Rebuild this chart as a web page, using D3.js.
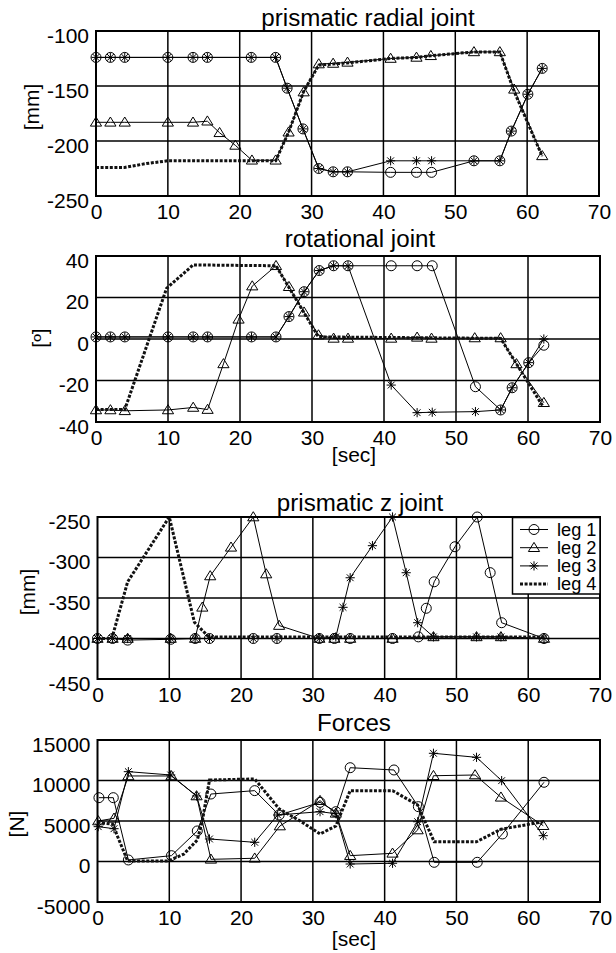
<!DOCTYPE html>
<html><head><meta charset="utf-8">
<script src="https://cdn.jsdelivr.net/npm/d3@7"></script>
<style>
body{margin:0;background:#fff}
svg{display:block}
text{font-family:Arial,"Liberation Sans",sans-serif;fill:#000}
</style>
</head><body>
<svg id="c" width="616" height="953"></svg>
<script>
// ---------------- DATA ----------------
const xTicks = [0, 10, 20, 30, 40, 50, 60, 70];
const legendLabels = ["leg 1", "leg 2", "leg 3", "leg 4"];
const titles = ["prismatic radial joint", "rotational joint", "prismatic z joint", "Forces"];
const yLabels = ["[mm]", "[º]", "[mm]", "[N]"];
const yTicks1 = [-250, -200, -150, -100];
const yTicks2 = [-40, -20, 0, 20, 40];
const yTicks3 = [-450, -400, -350, -300, -250];
const yTicks4 = [-5000, 0, 5000, 10000, 15000];

// prismatic radial joint [mm]
const radialT13 = [0, 2, 4, 10, 13.5, 15.5, 21.6, 25, 26.6, 28.8, 31, 33, 35, 41, 44.6, 46.7, 52.6, 56.2, 57.8, 60.1, 62.1];
const radialLeg1 = [-124, -124, -124, -124, -124, -124, -124, -124, -152, -189, -225, -228, -228, -228.5, -228.5, -228.5, -218, -218, -191, -157.5, -134];
const radialLeg3 = [-124, -124, -124, -124, -124, -124, -124, -124, -152, -189, -225, -228, -228, -218, -218, -218, -218, -218, -191, -157.5, -134];
const radialT2 = [0, 2, 4, 10, 13.5, 15.5, 17.2, 19.4, 21.7, 25, 26.8, 28.9, 31, 33, 35, 41, 44.6, 46.6, 52.6, 56.2, 58.2, 62.1];
const radialLeg2 = [-183, -183, -183, -183, -183, -182, -192.5, -204, -217.5, -217.5, -192, -155.5, -130, -129.5, -128.5, -125, -124, -122.5, -119, -119, -153, -213.5];
const radialT4 = [0, 4, 7, 10, 25, 26.8, 28.9, 31, 33, 35, 41, 44.6, 46.6, 52.6, 56.2, 58.2, 62.1];
const radialLeg4 = [-224, -224, -220.5, -218, -218, -192, -155, -131, -130, -129, -125, -124, -122.5, -119, -119, -155, -214];

// rotational joint [deg]
const rotT13 = [0, 2, 4, 10, 13.5, 15.5, 21.6, 25, 26.8, 28.9, 31, 33, 35, 41, 44.6, 46.7, 52.7, 56.2, 57.8, 60.1, 62.2];
const rotLeg1 = [1, 1, 1, 1, 1, 1, 1, 1, 10.8, 22.8, 33, 35.3, 35.3, 35.3, 35.3, 35.3, -23, -34.2, -23.5, -11.4, -3];
const rotLeg3 = [1, 1, 1, 1, 1, 1, 1, 1, 10.8, 22.8, 33, 35.3, 35.3, -22.2, -35.5, -35.3, -35, -34.2, -23.5, -11.4, 0];
const rotT2 = [0, 2, 4, 10, 13.5, 15.5, 17.7, 19.8, 21.7, 25, 26.8, 28.9, 30.9, 33, 35, 41, 44.6, 46.6, 52.6, 56.2, 58.4, 62.2];
const rotLeg2 = [-34.2, -34.2, -34.6, -34.2, -33, -34, -12, 9.5, 25.5, 35.3, 25.2, 12.9, 1.9, 0.3, 0.3, 0.3, 0.8, 0.3, 0.5, 0.5, -12, -30.7];
const rotT4 = [0, 4, 9.8, 13.5, 25, 30.9, 56.2, 62.1];
const rotLeg4 = [-34, -34, 24.4, 35.7, 35.3, 1, 0.3, -32.6];

// prismatic z joint [mm]
const zT1 = [0, 2.1, 4.2, 10.2, 13.6, 15.6, 21.7, 25, 30.9, 33, 35.2, 41.1, 44.7, 45.8, 46.9, 49.8, 52.9, 54.7, 56.3, 62.2];
const zLeg1 = [-400, -400, -402, -401, -400, -400, -400, -400, -400, -400, -400, -400, -398, -362.7, -330, -286.7, -250, -318.7, -380.5, -400];
const zT2 = [0, 2.1, 4.2, 10.2, 13.6, 14.6, 15.7, 18.6, 21.7, 23.5, 25.3, 30.9, 33, 35.2, 41.1, 46.8, 52.8, 56.2, 62.2];
const zLeg2 = [-400, -400, -400, -400, -400, -361.5, -322.8, -287.4, -250, -320.4, -384, -400, -400, -400, -400, -398, -398, -398, -400];
const zT3 = [0, 2.1, 4.2, 10.2, 13.6, 15.6, 21.7, 25, 30.9, 33.2, 34.2, 35.2, 38.3, 41.1, 43, 44.6, 46.8, 52.8, 56.2, 62.2];
const zLeg3 = [-400, -400, -400, -400, -400, -400, -400, -400, -400, -398, -361.5, -325, -285.4, -250, -318.8, -380.5, -398, -398, -398, -400];
const zT4 = [0, 2, 4.2, 10, 13.5, 15.5, 62.2];
const zLeg4 = [-400, -400, -330, -250, -380, -398, -398];

// Forces [N]
const fT1 = [0.2, 2.2, 4.3, 10.3, 13.9, 15.8, 21.9, 25.3, 31, 33.2, 35.2, 41.3, 44.7, 46.9, 52.9, 56.4, 62.2];
const fLeg1 = [7880, 7880, 190, 720, 3770, 8330, 8750, 5740, 7300, 6150, 11580, 11300, 6770, -100, -100, 3400, 9780];
const fT2 = [0.1, 2.3, 4.3, 10.3, 13.8, 15.8, 21.9, 25.4, 31, 33.2, 35.2, 41.1, 44.6, 46.8, 52.6, 56.2, 62.1];
const fLeg2 = [5000, 5330, 10560, 10560, 8090, 270, 400, 4380, 7510, 5950, 720, 1010, 3890, 10590, 10680, 7930, 4420];
const fT3 = [0.1, 2.3, 4.3, 10.2, 13.8, 15.6, 21.9, 25.1, 31, 33.2, 35.2, 41.1, 44.6, 46.8, 52.8, 56.3, 62.1];
const fLeg3 = [4300, 4050, 11090, 10680, 8090, 2780, 2370, 5740, 6150, 5900, -310, -220, 4910, 13360, 12860, 9980, 3190];
const fT4 = [0, 2.1, 4.2, 9.8, 12, 13.9, 14.6, 15.6, 21.9, 25.3, 28.4, 31, 33.2, 35.2, 41.1, 44.6, 46.9, 52.8, 56.2, 62.1];
const fLeg4 = [4850, 4600, 60, 60, 900, 2650, 5000, 10060, 10190, 6500, 4910, 3400, 4380, 8750, 8750, 6980, 2440, 2440, 3980, 4910];

// ---------------- LAYOUT ----------------
const panels = [
  {left: 96, right: 599, top: 31, bottom: 196, yTicks: yTicks1, title: titles[0], titleX: 368, titleY: 26,
   ylab: yLabels[0], ylabX: 39, ylabY: 107,
   series: [[radialT13, radialLeg1], [radialT2, radialLeg2], [radialT13, radialLeg3], [radialT4, radialLeg4]]},
  {left: 96, right: 600, top: 256, bottom: 422, yTicks: yTicks2, title: titles[1], titleX: 360, titleY: 247,
   ylab: yLabels[1], ylabX: 47, ylabY: 338, xlab: "[sec]", xlabY: 462,
   series: [[rotT13, rotLeg1], [rotT2, rotLeg2], [rotT13, rotLeg3], [rotT4, rotLeg4]]},
  {left: 97.5, right: 600, top: 517, bottom: 679, yTicks: yTicks3, title: titles[2], titleX: 360, titleY: 511,
   ylab: yLabels[2], ylabX: 35, ylabY: 592, legend: true,
   series: [[zT1, zLeg1], [zT2, zLeg2], [zT3, zLeg3], [zT4, zLeg4]]},
  {left: 97.5, right: 600, top: 740, bottom: 902, yTicks: yTicks4, title: titles[3], titleX: 354, titleY: 731,
   ylab: yLabels[3], ylabX: 24, ylabY: 824, xlab: "[sec]", xlabY: 946,
   series: [[fT1, fLeg1], [fT2, fLeg2], [fT3, fLeg3], [fT4, fLeg4]]}
];

const SX = 1.05;       // horizontal glyph stretch of the original figure
const TICK_FS = 20;
const svg = d3.select("#c");

const markerPaths = [
  null, // circle
  "M0,-5.3L5.6,3.8L-5.6,3.8Z",
  "M-4.6,0H4.6M0,-4.6V4.6M-3.4,-3.4L3.4,3.4M-3.4,3.4L3.4,-3.4",
  null
];

function drawMarker(g, k, x, y) {
  if (k === 0) {
    g.append("circle").attr("cx", x).attr("cy", y).attr("r", 5)
      .attr("fill", "none").attr("stroke", "#000").attr("stroke-width", 1);
  } else if (markerPaths[k]) {
    g.append("path").attr("d", markerPaths[k]).attr("transform", `translate(${x},${y})`)
      .attr("fill", "none").attr("stroke", "#000").attr("stroke-width", 1);
  }
}

function sText(g, x, y, str, fs, anchor, rot) {
  return g.append("text")
    .attr("transform", `translate(${x},${y})${rot ? " rotate(" + rot + ")" : ""} scale(${SX},1)`)
    .attr("font-size", fs).attr("text-anchor", anchor || "middle").text(str);
}

const fmt = d => String(d); // plain hyphen-minus like the original

panels.forEach(p => {
  const g = svg.append("g");
  const x = d3.scaleLinear().domain([0, 70]).range([p.left, p.right]);
  const yd = d3.extent(p.yTicks);
  const y = d3.scaleLinear().domain(yd).range([p.bottom, p.top]);

  // grid
  g.append("g").selectAll("line").data(xTicks.slice(1, -1)).join("line")
    .attr("x1", d => x(d)).attr("x2", d => x(d)).attr("y1", p.top).attr("y2", p.bottom)
    .attr("stroke", "#000").attr("stroke-width", 1.5);
  g.append("g").selectAll("line").data(p.yTicks.slice(1, -1)).join("line")
    .attr("y1", d => y(d)).attr("y2", d => y(d)).attr("x1", p.left).attr("x2", p.right)
    .attr("stroke", "#000").attr("stroke-width", 1.5);

  // axes (labels)
  const xa = g.append("g").attr("transform", `translate(0,${p.bottom})`)
    .call(d3.axisBottom(x).tickValues(xTicks).tickSize(0).tickFormat(fmt));
  xa.select(".domain").remove();
  xa.selectAll("text").attr("font-size", TICK_FS).attr("font-family", null)
    .attr("dy", null).attr("y", 23).attr("transform", `scale(${SX},1)`).attr("fill", "#000");

  const ya = g.append("g").attr("transform", `translate(${p.left},0)`)
    .call(d3.axisLeft(y).tickValues(p.yTicks).tickSize(0).tickFormat(fmt));
  ya.select(".domain").remove();
  ya.selectAll("text").attr("font-size", TICK_FS).attr("font-family", null)
    .attr("dy", null).attr("y", 11).attr("x", -7 / SX).attr("transform", `scale(${SX},1)`).attr("fill", "#000");

  // data lines
  const dg = g.append("g");
  const line = d3.line().x(d => x(d[0])).y(d => y(d[1]));
  p.series.forEach((s, k) => {
    const pts = s[0].map((t, i) => [t, s[1][i]]);
    const path = dg.append("path").attr("d", line(pts)).attr("fill", "none");
    if (k === 3) {
      path.attr("stroke", "#111").attr("stroke-width", 3).attr("stroke-dasharray", "3,1.6");
    } else {
      path.attr("stroke", "#000").attr("stroke-width", 1);
      pts.forEach(d => drawMarker(dg, k, x(d[0]), y(d[1])));
    }
  });

  // frame
  g.append("rect").attr("x", p.left).attr("y", p.top).attr("width", p.right - p.left)
    .attr("height", p.bottom - p.top).attr("fill", "none").attr("stroke", "#000").attr("stroke-width", 2);

  // titles and labels
  sText(g, p.titleX, p.titleY, p.title, 23, "middle");
  sText(g, p.ylabX, p.ylabY, p.ylab, TICK_FS, "middle", -90);
  if (p.xlab) sText(g, 354, p.xlabY, p.xlab, TICK_FS, "middle");

  // legend
  if (p.legend) {
    const lg = g.append("g");
    const bx = 512.5, by = p.top + 0.5, bw = p.right - 512.5, bh = 76.5;
    lg.append("rect").attr("x", bx).attr("y", by).attr("width", bw).attr("height", bh)
      .attr("fill", "#fff").attr("stroke", "#000").attr("stroke-width", 1.5);
    legendLabels.forEach((lab, k) => {
      const ly = 529.5 + k * 18.2;
      const l = lg.append("line").attr("x1", 520).attr("x2", 548).attr("y1", ly).attr("y2", ly);
      if (k === 3) l.attr("stroke", "#111").attr("stroke-width", 3).attr("stroke-dasharray", "3,1.6");
      else { l.attr("stroke", "#000").attr("stroke-width", 1); drawMarker(lg, k, 534, ly); }
      lg.append("text").attr("transform", `translate(557,${ly + 6}) scale(1.04,1)`)
        .attr("font-size", 17.5).text(lab);
    });
  }
});
</script>
</body></html>
